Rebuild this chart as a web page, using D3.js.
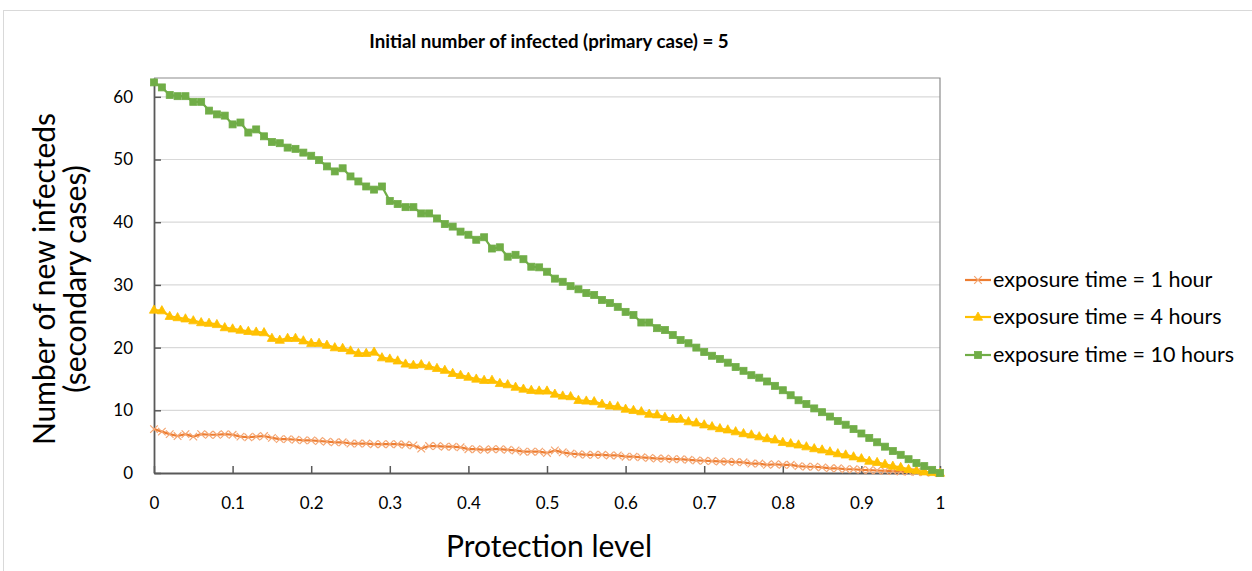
<!DOCTYPE html>
<html>
<head>
<meta charset="utf-8">
<script src="https://cdn.jsdelivr.net/npm/d3@7"></script>
<style>
  html, body { margin: 0; padding: 0; background: #fff; }
  svg { display: block; font-family: Lato, "Open Sans", sans-serif; }
</style>
</head>
<body>
<svg id="chart" width="1252" height="571"></svg>
<script>
const chartTitle = "Initial number of infected (primary case) = 5";
const xTitle = "Protection level";
const yTitleLines = ["Number of new infecteds", "(secondary cases)"];
const protectionLevels = d3.range(0, 101).map(i => i / 100);
const xTicks = [0, 0.1, 0.2, 0.3, 0.4, 0.5, 0.6, 0.7, 0.8, 0.9, 1];
const yTicks = [0, 10, 20, 30, 40, 50, 60];
const seriesNames = ["exposure time = 1 hour", "exposure time = 4 hours", "exposure time = 10 hours"];

const exposure1h = [7.0,6.6,6.2,5.9,6.2,5.8,6.2,6.1,6.1,6.2,
6.1,5.8,5.7,5.8,5.9,5.6,5.4,5.4,5.3,5.2,
5.2,5.1,5.0,4.9,4.9,4.7,4.7,4.7,4.6,4.6,
4.6,4.6,4.5,4.4,3.9,4.3,4.3,4.2,4.2,4.1,
3.8,3.8,3.7,3.8,3.8,3.7,3.6,3.4,3.4,3.4,
3.2,3.6,3.3,3.1,3.0,2.9,2.9,2.9,2.8,2.8,
2.6,2.6,2.5,2.4,2.3,2.3,2.2,2.2,2.1,2.0,
1.95,1.9,1.85,1.8,1.75,1.7,1.5,1.5,1.3,1.4,
1.3,1.3,1.1,1.0,1.0,0.9,0.75,0.75,0.6,0.6,
0.5,0.45,0.4,0.35,0.3,0.25,0.2,0.15,0.1,0.05,0];

const exposure4h = [26.0,25.9,25.0,24.8,24.6,24.3,24.0,23.9,23.7,23.2,
23.0,22.8,22.6,22.5,22.4,21.5,21.2,21.5,21.5,21.1,
20.7,20.7,20.4,20.0,19.9,19.5,19.1,19.1,19.3,18.4,
18.2,17.9,17.4,17.2,17.3,17.0,16.7,16.4,15.9,15.6,
15.3,15.0,14.8,14.8,14.3,14.1,13.7,13.4,13.2,13.1,
13.1,12.6,12.3,12.2,11.6,11.5,11.4,11.0,10.7,10.6,
10.2,10.0,9.8,9.4,9.3,8.9,8.6,8.6,8.2,8.0,
7.7,7.4,7.1,6.9,6.6,6.3,6.1,5.8,5.5,5.3,
4.9,4.7,4.5,4.2,3.9,3.7,3.4,3.1,2.9,2.6,
2.3,1.9,1.7,1.4,1.1,0.9,0.6,0.4,0.2,0.1,0];

const exposure10h = [62.3,61.5,60.3,60.1,60.1,59.2,59.2,57.8,57.2,57.0,
55.6,55.9,54.3,54.8,53.7,52.8,52.6,51.9,51.7,51.1,
50.6,49.9,48.9,48.1,48.6,47.3,46.5,45.7,45.2,45.7,
43.4,42.9,42.4,42.4,41.4,41.4,40.6,39.7,39.3,38.5,
38.0,37.2,37.6,35.8,36.0,34.5,34.8,34.1,32.9,32.8,
32.1,31.0,30.5,29.8,29.3,28.7,28.4,27.6,27.1,26.5,
25.7,25.2,24.0,24.0,23.1,22.8,22.0,21.2,20.7,20.0,
19.3,18.7,18.2,17.6,16.9,16.3,15.6,15.2,14.6,13.9,
13.2,12.4,11.6,11.0,10.3,9.7,9.0,8.3,7.7,7.0,
6.3,5.6,4.9,4.2,3.5,2.9,2.2,1.6,1.1,0.5,0];

const colors = ["#ED7D31", "#FFC000", "#70AD47"];
const markers = ["cross", "triangle", "square"];

const svg = d3.select("#chart");
const M = { left: 154, right: 940, top: 78, bottom: 473 };

// outer chart border
svg.append("rect").attr("x", 3.5).attr("y", 10.5).attr("width", 1270).attr("height", 580)
  .attr("fill", "none").attr("stroke", "#d9d9d9").attr("stroke-width", 1);

const x = d3.scaleLinear().domain([0, 1]).range([M.left, M.right]);
const y = d3.scaleLinear().domain([0, 63]).range([M.bottom, M.top]);

// gridlines
svg.append("g").selectAll("line").data(yTicks.filter(d => d > 0)).join("line")
  .attr("x1", M.left).attr("x2", M.right)
  .attr("y1", d => y(d)).attr("y2", d => y(d))
  .attr("stroke", "#d9d9d9").attr("stroke-width", 1.2);

// plot frame top & right
svg.append("path")
  .attr("d", `M${M.left},${M.top}H${M.right}V${M.bottom}`)
  .attr("fill", "none").attr("stroke", "#8c8c8c").attr("stroke-width", 1.2);

// axes
const xAxis = svg.append("g").attr("transform", `translate(0,${M.bottom})`)
  .call(d3.axisBottom(x).tickValues(xTicks).tickFormat(d => d3.format("")(d)).tickSizeInner(-7).tickSizeOuter(0).tickPadding(24));
xAxis.select(".domain").attr("stroke", "#595959").attr("stroke-width", 1.8);
xAxis.selectAll(".tick line").attr("stroke", "#595959").attr("stroke-width", 1.5);
xAxis.selectAll(".tick text").attr("font-size", 17).attr("fill", "#000")
  .attr("font-family", "Lato, sans-serif");

const yAxis = svg.append("g").attr("transform", `translate(${M.left},0)`)
  .call(d3.axisLeft(y).tickValues(yTicks).tickSizeInner(-7).tickSizeOuter(0).tickPadding(21));
yAxis.select(".domain").attr("stroke", "#595959").attr("stroke-width", 1.8);
yAxis.selectAll(".tick line").attr("stroke", "#595959").attr("stroke-width", 1.5);
yAxis.selectAll(".tick text").attr("font-size", 17).attr("fill", "#000")
  .attr("font-family", "Lato, sans-serif");

// marker drawing
function drawMarker(g, type, color) {
  if (type === "square") {
    g.append("rect").attr("x", -3.5).attr("y", -3.5).attr("width", 7).attr("height", 7)
      .attr("fill", color).attr("stroke", color).attr("stroke-width", 0.8);
  } else if (type === "triangle") {
    g.append("path").attr("d", "M0,-5L4.6,3.2L-4.6,3.2Z").attr("fill", color)
      .attr("stroke", color).attr("stroke-width", 0.8);
  } else {
    g.append("path").attr("d", "M-3.8,-3.8L3.8,3.8M-3.8,3.8L3.8,-3.8")
      .attr("stroke", "#F4A673").attr("stroke-width", 1.2).attr("fill", "none");
  }
}

const seriesData = [exposure1h, exposure4h, exposure10h];
const line = d3.line().x(d => x(d[0])).y(d => y(d[1]));

seriesData.forEach((vals, si) => {
  const pts = protectionLevels.map((p, i) => [p, vals[i]]);
  const g = svg.append("g");
  g.append("path").datum(pts).attr("d", line)
    .attr("fill", "none").attr("stroke", colors[si]).attr("stroke-width", 2.2)
    .attr("stroke-linejoin", "round");
  g.selectAll("g.mk").data(pts).join("g").attr("class", "mk")
    .attr("transform", d => `translate(${x(d[0])},${y(d[1])})`)
    .each(function () { drawMarker(d3.select(this), markers[si], colors[si]); });
});

// title
svg.append("text").attr("x", 549).attr("y", 48).attr("text-anchor", "middle")
  .attr("font-size", 18.7).attr("font-weight", "bold").attr("fill", "#000")
  .attr("font-family", "Lato, sans-serif")
  .text(chartTitle);

// x title
svg.append("text").attr("x", 549).attr("y", 557).attr("text-anchor", "middle")
  .attr("font-size", 30).attr("fill", "#000").attr("font-family", "Lato, sans-serif")
  .text(xTitle);

// y title
const yt = svg.append("text").attr("transform", "translate(55,279) rotate(-90)")
  .attr("text-anchor", "middle").attr("font-size", 30).attr("fill", "#000")
  .attr("font-family", "Lato, sans-serif");
yTitleLines.forEach((t, i) => {
  yt.append("tspan").attr("x", 0).attr("dy", i === 0 ? 0 : 31).text(t);
});

// legend
const legendY = [280, 317, 355];
seriesNames.forEach((name, i) => {
  const g = svg.append("g").attr("transform", `translate(965,${legendY[i]})`);
  g.append("line").attr("x1", 0).attr("x2", 26).attr("y1", 0).attr("y2", 0)
    .attr("stroke", colors[i]).attr("stroke-width", 2.2);
  const mg = g.append("g").attr("transform", "translate(13,0)");
  drawMarker(mg, markers[i], colors[i]);
  g.append("text").attr("x", 28).attr("y", 7).attr("font-size", 21.5).attr("fill", "#000")
    .attr("font-family", "Lato, sans-serif").text(name);
});
</script>
</body>
</html>
